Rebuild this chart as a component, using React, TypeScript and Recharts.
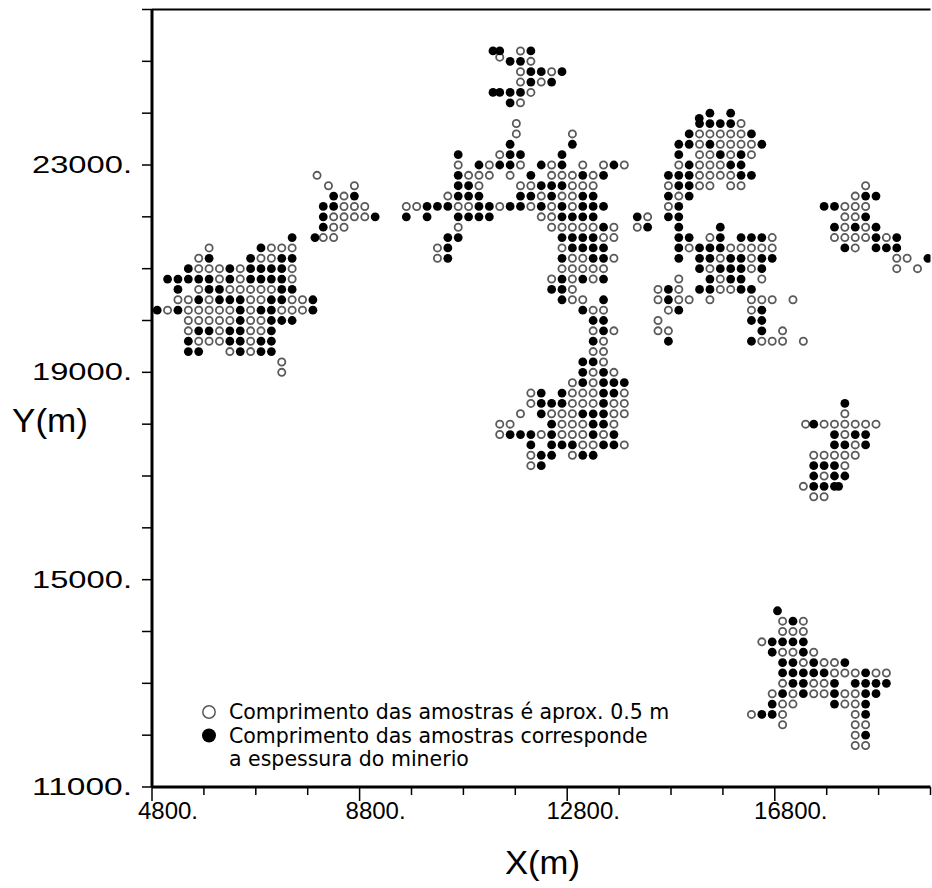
import React from 'react';
import { ScatterChart, Scatter, XAxis, YAxis, ReferenceLine } from 'recharts';

// drill holes sit on a 200 m grid; each block lists rows from north to south
// 'o' = sample length about 0.5 m, 'x' = sample length equals ore thickness
const STEP = 200;

const westBlock = {
  x0: 4900, y0: 21600,
  rows: [
    '.............x..',
    '.....o....xooo..',
    '....ox...xooxx..',
    '...xoooxoxxxxo..',
    '.xxxxxoxoxxxxo..',
    '..x.oxxoooooxx..',
    '..ooxoxxxooxxoox',
    'xoxoooooxoxxooox',
    '...oooooxooxxx..',
    '...oxxoxxoox....',
    '...xoooxxoxx....',
    '...xx..oxoxx....',
    '............o...',
    '............o...',
  ],
};

const smallWestBlock = {
  x0: 8100, y0: 22600,
  rows: ['...o..', '.xox..', 'xxooo.', 'xoooox', 'xoo...', 'oo....'],
};

const northBlock = {
  x0: 11300, y0: 25200,
  rows: ['.x.ox...', '..xxo...', '...oxxox', '...oxox.', '.xxxo...', '..xo....'],
};

const centreNorthBlock = {
  x0: 9700, y0: 23600,
  rows: [
    '................o.....',
    '..........x.....x.....',
    '.....x...oxx...x......',
    '.....o.xoxxo.xox.o.oxo',
    '.....xooo.o.x.oooxox..',
    '.....xxo...ooxxxooo...',
    '....oxxx...xxoxooxx...',
    'ooxxxooxxoxxoxoxoxxx..',
    'x.x..xxxx....ooxxxx...',
    '.....o........oooooxo.',
    '....xx.........xxxxoo.',
    '...ox..........oxxxx..',
    '...ox..........xooxxo.',
  ],
};

const centreSouthBlock = {
  x0: 11500, y0: 21000,
  rows: [
    '......ooooo..',
    '.....oxoxox..',
    '.....xxo.....',
    '......xoo.x..',
    '........xoo..',
    '.........xx..',
    '.........oxo.',
    '.........xo..',
    '.........oo..',
    '........xxo..',
    '........xoxo.',
    '.......oxoxxx',
    '...ox.xoooxxo',
    '...oxxxoooxoo',
    '..o.xoooxxxoo',
    'oo...xoooxxo.',
    'oxxxoxoooxox.',
    '...x.xxxooxxo',
    '...oxx.oxx...',
    '...ox........',
  ],
};

const eastBlock = {
  x0: 14150, y0: 24000,
  rows: [
    '.......x.x.......',
    '......xxxxo......',
    '.....xooooox.....',
    '....xxoxoooox....',
    '....x.ooxoxo.....',
    '....oxoooxx......',
    '...xxxooooxx.....',
    '...oxxoo.oo......',
    '...xox...........',
    '...ox............',
    'xo.xx............',
    'ox..x...x........',
    '....xx.ox.xxxo...',
    '....xoxxxooooo...',
    '....x.xxoxxoxx...',
    '......xoxxxox....',
    '....o..xoxx.o....',
    '..oxo.xxooxx.....',
    '..oxoo.o...ooo.o.',
    '...ox......ox....',
    '..o........xx....',
    '..oo........x.o..',
    '...x.......xooo.o',
  ],
};

const farEastBlock = {
  x0: 17750, y0: 22600,
  rows: [
    '....o.......',
    '...oxx......',
    'xxooo.......',
    '..oox.......',
    '.xoxox......',
    '.ooooxox....',
    '..xo.xxx....',
    '.......oo.xo',
    '.......o.o..',
  ],
};

const eastMiddleBlock = {
  x0: 17350, y0: 18400,
  rows: ['....x...', '....o...', '.xoooooo', '...xoxx.', '...xxox.', '.ooooo..', '.xxxo...', '.xoxx...', 'oxxx....', '.oo.....'],
};

const southEastBlock = {
  x0: 16350, y0: 14200,
  rows: [
    '...oxo........',
    '...ooo........',
    '.oxxxx........',
    '..xooxo.......',
    '...xxoxoox....',
    '...xxxxxoooxoo',
    '...oxxoox.xxxx',
    '..oxoxooxooxx.',
    '..xoo...xoox..',
    'oxxo......ox..',
    '...o......oo..',
    '..........ox..',
    '..........oo..',
  ],
};

// holes that are off the regular grid
const openExtra = [
  [7980, 22800], [8200, 22600], [11500, 25080], [11820, 23800], [11820, 23600], [17394, 18000],
];
const filledExtra = [
  [7940, 21600], [11370, 25200], [11370, 24400], [15344, 23900], [18030, 16800], [16852, 14400],
];

const blocks = [
  westBlock, smallWestBlock, northBlock, centreNorthBlock, centreSouthBlock,
  eastBlock, farEastBlock, eastMiddleBlock, southEastBlock,
];

const xTicks = [4800, 5800, 6800, 7800, 8800, 9800, 10800, 11800, 12800, 13800, 14800, 15800, 16800, 17800, 18800, 19800];
const xLabels = [4800, 8800, 12800, 16800];
const yTicks = [11000, 12000, 13000, 14000, 15000, 16000, 17000, 18000, 19000, 20000, 21000, 22000, 23000, 24000, 25000, 26000];
const yLabels = [11000, 15000, 19000, 23000];

const legendItems = [
  { kind: 'open', lines: ['Comprimento das amostras é aprox. 0.5 m'] },
  { kind: 'filled', lines: ['Comprimento das amostras corresponde', 'a espessura do minerio'] },
];

function holes(kind: string, extra: number[][]) {
  const pts: { x: number; y: number }[] = [];
  blocks.forEach((b) =>
    b.rows.forEach((row, i) =>
      row.split('').forEach((ch, j) => {
        if (ch === kind) pts.push({ x: b.x0 + j * STEP, y: b.y0 - i * STEP });
      })
    )
  );
  extra.forEach(([x, y]) => pts.push({ x, y }));
  return pts;
}

const openHoles = holes('o', openExtra);
const filledHoles = holes('x', filledExtra);

const OpenDot = (props: any) => (
  <circle cx={props.cx} cy={props.cy} r={3.6} fill="#fff" stroke="#5a5a5a" strokeWidth={1.8} />
);
const FilledDot = (props: any) => <circle cx={props.cx} cy={props.cy} r={4.4} fill="#000" />;

const YTick = (props: any) => {
  const { x, y, payload } = props;
  const show = yLabels.includes(payload.value);
  return (
    <g>
      <line x1={x - 10} y1={y} x2={x} y2={y} stroke="#000" strokeWidth={1.5} />
      {show && (
        <text x={x - 20} y={y + 8} textAnchor="end" fontFamily="Liberation Sans" fontSize={24}
          textLength={100} lengthAdjust="spacingAndGlyphs" fill="#000">
          {payload.value + '.'}
        </text>
      )}
    </g>
  );
};

const XTick = (props: any) => {
  const { x, y, payload } = props;
  const show = xLabels.includes(payload.value);
  return (
    <g>
      <line x1={x} y1={y} x2={x} y2={y + (show ? 14 : 8)} stroke="#000" strokeWidth={1.5} />
      {show && (
        <text x={x + 16} y={y + 32} textAnchor="middle" fontFamily="Liberation Sans" fontSize={24} fill="#000">
          {payload.value + '.'}
        </text>
      )}
    </g>
  );
};

export default function App() {
  let line = 0;
  return (
    <div style={{ position: 'absolute', left: 0, top: 0, width: 932, height: 888, background: '#fff' }}>
      <ScatterChart width={932} height={888} margin={{ top: 9.5, right: 1.5, bottom: 0, left: 0 }}>
        <XAxis type="number" dataKey="x" domain={[4800, 19800]} ticks={xTicks} interval={0} height={101}
          allowDataOverflow axisLine={{ stroke: '#000', strokeWidth: 3 }} tickLine={false} tickSize={0}
          tickMargin={0} tick={<XTick />} />
        <YAxis type="number" dataKey="y" domain={[11000, 26000]} ticks={yTicks} interval={0} width={152}
          allowDataOverflow axisLine={{ stroke: '#000', strokeWidth: 3 }} tickLine={false} tickSize={0}
          tickMargin={0} tick={<YTick />} />
        <ReferenceLine y={26000} stroke="#000" strokeWidth={2} />
        <Scatter data={openHoles} shape={OpenDot} isAnimationActive={false} />
        <Scatter data={filledHoles} shape={FilledDot} isAnimationActive={false} />
      </ScatterChart>
      <svg width={932} height={888} style={{ position: 'absolute', left: 0, top: 0, pointerEvents: 'none' }}>
        <text x={12} y={432} fontFamily="Liberation Sans" fontSize={34} textLength={76} lengthAdjust="spacingAndGlyphs">Y(m)</text>
        <text x={505} y={874} fontFamily="Liberation Sans" fontSize={34} textLength={75} lengthAdjust="spacingAndGlyphs">X(m)</text>
        {legendItems.map((item) => {
          const cy = 712 + line * 23.5;
          const g = (
            <g key={item.kind}>
              {item.kind === 'open' ? (
                <circle cx={209} cy={cy} r={6.2} fill="#fff" stroke="#5a5a5a" strokeWidth={1.5} />
              ) : (
                <circle cx={209} cy={cy} r={7} fill="#000" />
              )}
              {item.lines.map((t, i) => (
                <text key={t} x={229} y={cy + 7 + i * 23.5} fontFamily="DejaVu Sans" fontSize={20.5} fill="#000">
                  {t}
                </text>
              ))}
            </g>
          );
          line += item.lines.length;
          return g;
        })}
      </svg>
    </div>
  );
}
